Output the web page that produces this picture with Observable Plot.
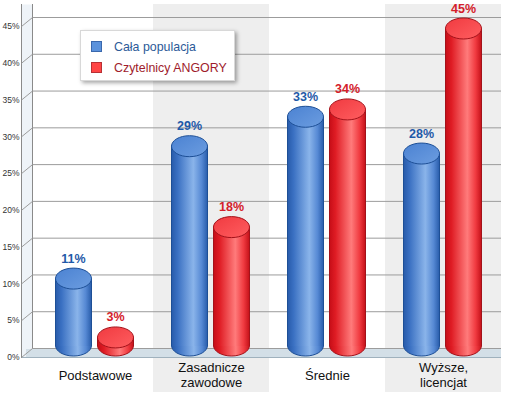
<!DOCTYPE html>
<html>
<head>
<meta charset="utf-8">
<script src="https://cdn.jsdelivr.net/npm/d3@7"></script>
<script src="https://cdn.jsdelivr.net/npm/@observablehq/plot@0.6"></script>
<style>
  html, body { margin: 0; padding: 0; background: #fff; }
  #wrap { position: relative; width: 512px; height: 398px; font-family: "Liberation Sans", Arial, sans-serif; }
  #legend { position: absolute; left: 80px; top: 30px; width: 155px; height: 51px; background: #fff;
            border: 1px solid #d8d8d8; box-shadow: 2px 2px 4px rgba(0,0,0,0.35); box-sizing: border-box; }
  .li { position: absolute; left: 10px; font-size: 12.4px; line-height: 14px; white-space: nowrap; }
  .sw { position: absolute; left: 0; top: 1px; width: 11px; height: 11px; box-sizing: border-box; }
  .li span.t { position: absolute; left: 23px; top: 0; }
</style>
</head>
<body>
<div id="wrap"></div>
<script>
// ---- data ----
const categories = ["Podstawowe", "Zasadnicze\nzawodowe", "Średnie", "Wyższe,\nlicencjat"];
const seriesNames = ["Cała populacja", "Czytelnicy ANGORY"];
const populacja = [11, 29, 33, 28];
const angory = [3, 18, 34, 45];
const yTicks = [0, 5, 10, 15, 20, 25, 30, 35, 40, 45];
const shadedCategories = [categories[1], categories[3]];

const rows = categories.flatMap((c, i) => [
  {category: c, series: seriesNames[0], value: populacja[i]},
  {category: c, series: seriesNames[1], value: angory[i]}
]);

// ---- styles ----
const styles = {
  [seriesNames[0]]: {grad: "url(#gBlue)", top: "url(#gBlueTop)", stroke: "#1d4f96", text: "#1f5aa8",
                     insetLeft: 18, insetRight: 62, dx: -22, left: -40, right: -4},
  [seriesNames[1]]: {grad: "url(#gRed)", top: "url(#gRedTop)", stroke: "#a3121a", text: "#d4202a",
                     insetLeft: 60, insetRight: 20, dx: 20, left: 2, right: 38}
};

function ellipseSymbol(rx, ry) {
  const k = 0.5523;
  return {draw(ctx) {
    ctx.moveTo(-rx, 0);
    ctx.bezierCurveTo(-rx, -ry * k, -rx * k, -ry, 0, -ry);
    ctx.bezierCurveTo(rx * k, -ry, rx, -ry * k, rx, 0);
    ctx.bezierCurveTo(rx, ry * k, rx * k, ry, 0, ry);
    ctx.bezierCurveTo(-rx * k, ry, -rx, ry * k, -rx, 0);
    ctx.closePath();
  }};
}
const ell = ellipseSymbol(18, 10.5);
const slant = {draw(ctx) { ctx.moveTo(0, 0); ctx.lineTo(11, -9); }};

function cylinder(s) {
  const st = styles[s];
  const d = rows.filter(r => r.series === s);
  return [
    Plot.dot(d, {x: "category", y: () => 0, dx: st.dx, dy: -12, symbol: ell, fill: st.grad, stroke: st.stroke, strokeWidth: 1}),
    Plot.barY(d, {x: "category", y: "value", insetLeft: st.insetLeft, insetRight: st.insetRight, insetBottom: 13, dy: 2, fill: st.grad}),
    Plot.ruleX(d, {x: "category", y1: "value", y2: () => 0, dx: st.left, dy: 2, insetBottom: 13, stroke: st.stroke, strokeWidth: 1}),
    Plot.ruleX(d, {x: "category", y1: "value", y2: () => 0, dx: st.right, dy: 2, insetBottom: 13, stroke: st.stroke, strokeWidth: 1}),
    Plot.dot(d, {x: "category", y: "value", dx: st.dx, dy: 2, symbol: ell, fill: st.top, stroke: st.stroke, strokeWidth: 1}),
    Plot.text(d, {x: "category", y: "value", dx: st.dx, dy: -18, text: r => r.value + "%", fill: st.text,
                  fontWeight: "bold", fontSize: 12.5})
  ];
}

const plot = Plot.plot({
  width: 512,
  height: 398,
  marginLeft: 37,
  marginRight: 11,
  marginTop: 4,
  marginBottom: 6,
  style: {fontFamily: "'Liberation Sans', Arial, sans-serif", background: "#fff"},
  x: {domain: categories, padding: 0, axis: null},
  y: {domain: [0, 45], range: [357, 26], axis: null},
  marks: [
    Plot.cell(shadedCategories, {x: d => d, fill: "#eeeeee"}),
    // left wall
    Plot.frame({fill: "#eef3f8", stroke: "none", insetLeft: -16, insetRight: 469, insetBottom: 35}),
    // back grid
    Plot.ruleY(yTicks, {y: d => d, dy: -9, insetLeft: -5, stroke: "#9c9c9c", strokeWidth: 1}),
    // floor
    Plot.ruleY(yTicks.slice(0, 1), {y: d => d, dy: -4.5, insetLeft: -11, stroke: "#d3dfe7", strokeWidth: 8}),
    Plot.ruleY(yTicks.slice(0, 1), {y: d => d, insetLeft: -16, stroke: "#9fb1bd", strokeWidth: 1}),
    // wall verticals
    Plot.ruleX(categories.slice(0, 1), {x: d => d, dx: -74, insetBottom: 34, stroke: "#8a8a8a"}),
    Plot.ruleX(categories.slice(0, 1), {x: d => d, dx: -63, insetBottom: 44, stroke: "#8a8a8a"}),
    // slanted ticks on wall
    Plot.dot(yTicks, {y: d => d, frameAnchor: "left", dx: -16, symbol: slant, fill: "none", stroke: "#9c9c9c", strokeWidth: 1}),
    Plot.text(yTicks, {y: d => d, frameAnchor: "left", dx: -18, text: d => d + "%", textAnchor: "end", fontSize: 8.5, fill: "#333"}),
    ...cylinder(seriesNames[0]),
    ...cylinder(seriesNames[1]),
    Plot.text(categories, {x: d => d, text: d => d, frameAnchor: "bottom", lineAnchor: "middle", dy: -17.5,
                           fontSize: 13, lineHeight: 1.1, fill: "#111"})
  ]
});

d3.select(plot).insert("defs", ":first-child").html(`
  <linearGradient id="gBlue" x1="0" x2="1" y1="0" y2="0">
    <stop offset="0" stop-color="#2659a8"/>
    <stop offset="0.18" stop-color="#3a70c2"/>
    <stop offset="0.62" stop-color="#8ab4ea"/>
    <stop offset="0.85" stop-color="#5689d4"/>
    <stop offset="1" stop-color="#2c60ae"/>
  </linearGradient>
  <linearGradient id="gRed" x1="0" x2="1" y1="0" y2="0">
    <stop offset="0" stop-color="#c40c16"/>
    <stop offset="0.18" stop-color="#df1c24"/>
    <stop offset="0.62" stop-color="#ff7b7b"/>
    <stop offset="0.85" stop-color="#f03a40"/>
    <stop offset="1" stop-color="#c8141c"/>
  </linearGradient>
  <linearGradient id="gBlueTop" x1="0" x2="1" y1="0" y2="1">
    <stop offset="0" stop-color="#4b82d2"/>
    <stop offset="1" stop-color="#6c9de0"/>
  </linearGradient>
  <linearGradient id="gRedTop" x1="0" x2="1" y1="0" y2="1">
    <stop offset="0" stop-color="#f03a40"/>
    <stop offset="1" stop-color="#ff5e60"/>
  </linearGradient>
`);

const wrap = document.getElementById("wrap");
wrap.appendChild(plot);

const legend = document.createElement("div");
legend.id = "legend";
const legendColors = [
  {fill: "#5b92dc", border: "#3a68ad", text: "#2c5a98"},
  {fill: "#ff4545", border: "#b83035", text: "#a01c2c"}
];
seriesNames.forEach((name, i) => {
  const li = document.createElement("div");
  li.className = "li";
  li.style.top = (9 + i * 21) + "px";
  li.innerHTML = `<div class="sw" style="background:${legendColors[i].fill};border:1px solid ${legendColors[i].border}"></div><span class="t" style="color:${legendColors[i].text}">${name}</span>`;
  legend.appendChild(li);
});
wrap.appendChild(legend);
</script>
</body>
</html>
